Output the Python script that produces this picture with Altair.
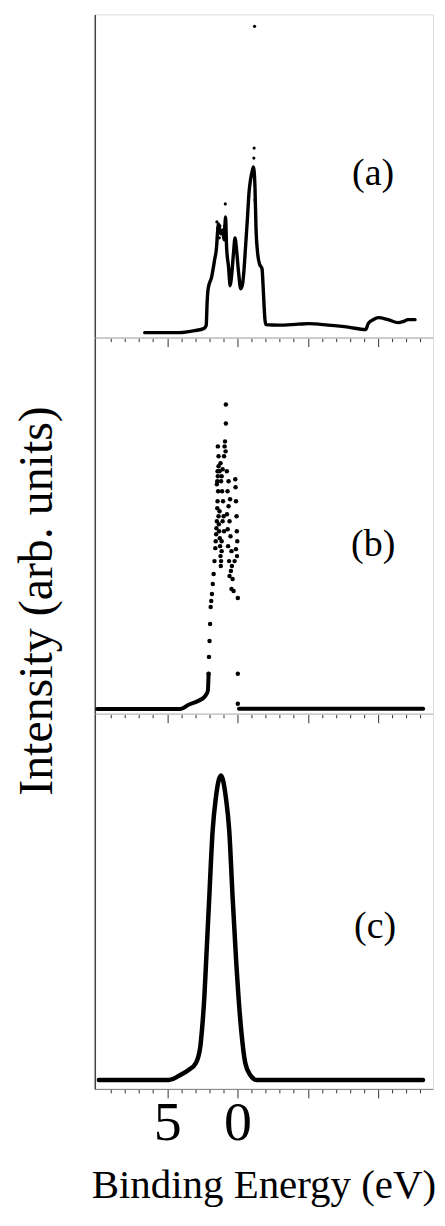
import altair as alt
import pandas as pd

# ---------------- data ----------------
# Binding energy (eV) and intensity (arb. units)

# panel (a): main trace
a_line_E = [6.60, 4.11, 3.05, 2.41, 2.23, 2.16, 2.09, 1.84, 1.63, 1.49, 1.42, 1.35, 1.21, 1.06,
            0.96, 0.85, 0.78, 0.64, 0.52, 0.43, 0.28, 0.18, 0.07, -0.07, -0.23, -0.35, -0.46,
            -0.57, -0.71, -0.82, -0.92, -1.03, -1.13, -1.24, -1.31, -1.42, -1.56, -1.74, -1.81,
            -1.88, -1.95, -2.02, -2.91, -4.33, -5.04, -6.45, -7.87, -9.11, -9.29, -9.65, -10.0,
            -10.71, -11.42, -11.77, -12.13, -12.62]
a_line_I = [5, 5, 7, 9, 12, 36, 49, 61, 78, 91, 106, 114, 104, 108,
            98, 121, 91, 71, 52, 61, 86, 100, 88, 66, 49, 53, 68,
            91, 121, 146, 158, 166, 171, 151, 111, 86, 74, 69, 54,
            34, 18, 13, 12.5, 13.5, 14, 12.5, 10.5, 8, 14, 18, 20,
            18, 15, 16, 18, 18]
# panel (a): isolated points
a_dot_E = [-1.18, -1.21, 0.87, 1.47, -1.24, -1.28, 1.40, 0.92, -1.16, -1.10, 1.30, 1.25]
a_dot_I = [190, 312, 134, 116, 138, 124, 110, 112, 180, 168, 100, 112]

# panel (b): continuous parts
b_line_E = [9.98, 4.06, 3.48, 2.77, 2.29, 2.11, 2.06]
b_line_I = [4.7, 4.7, 9, 13, 18, 23, 40]
b_tail_E = [-0.10, -13.20]
b_tail_I = [5, 5]
# panel (b): scattered points
b_dot_E = [2.06, 2.03, 1.99, 1.95, 1.91, 1.87, 1.82, 1.76, 1.70, 1.64, 1.58, 1.52, 1.47,
           1.47, 1.42, 1.35, 1.31, 1.24, 1.21, 1.38, 1.28, 1.35, 1.28, 1.21, 1.13, 1.06, 1.17,
           1.10, 1.03, 0.99, 0.96, 1.06, 1.13, 1.17, 1.13, 0.83, 0.83, 0.89, 0.85, 0.96, 0.92,
           1.40, 1.35, 1.42, 1.44, 0.76, 0.71, 0.64, 0.57, 0.50, 0.43, 0.40, 0.35, 0.28, 0.21,
           0.16, 0.14, 0.11, 0.07, 0.05, 0.02, 0.11, 0.04, -0.02, -0.02, -0.02, 0.64, 0.53,
           0.67, 0.57, 0.43, 0.60, 0.47, 0.75, 0.70, 1.55, 1.50, 1.44, 1.40, 1.33, 1.26, 1.19]
b_dot_I = [40, 57, 73, 90, 107, 113, 120, 130, 140, 153, 166, 180, 193,
           230, 213, 198, 183, 168, 158, 223, 203, 248, 243, 251, 238, 245, 233,
           223, 213, 198, 183, 193, 173, 153, 163, 310, 291, 273, 263, 258, 268,
           268, 258, 243, 233, 243, 223, 208, 193, 178, 163, 148, 135, 123, 153,
           235, 227, 213, 198, 183, 173, 165, 158, 116, 40, 10, 233, 215,
           168, 138, 125, 153, 143, 200, 185, 173, 186, 206, 238, 190, 176, 148]

# panel (c): smooth curve
c_line_E = [9.86, 4.89, 4.06, 3.48, 2.96, 2.65, 2.53, 2.36, 2.24, 2.01, 1.77, 1.54, 1.18,
            0.83, 0.59, 0.35, 0.09, -0.07, -0.26, -0.55, -0.90, -1.37, -13.19]
c_line_I = [9, 9, 14, 19, 26, 42, 59, 92, 126, 192, 259, 292, 314,
            292, 259, 192, 126, 92, 59, 26, 14, 9, 9]

tick_values = list(range(9, -14, -1))
panel_labels = ["(a)", "(b)", "(c)"]
x_title = "Binding Energy (eV)"
y_title = "Intensity (arb. units)"

# ---------------- chart ----------------
SERIF = "'Liberation Serif', 'Times New Roman', Times, serif"
W = 339
x_scale = alt.Scale(domain=[10.15, -13.9], nice=False, zero=False)
tick_size = {"condition": {"test": "datum.value % 5 === 0", "value": 9}, "value": 4}


def x_axis(show_labels):
    kw = dict(values=tick_values, tickSize=tick_size, domainColor="#808080",
              tickColor="#333333", grid=False, labelOverlap=False, labelFlush=False, title=None)
    if show_labels:
        kw.update(labelExpr="datum.value == 5 || datum.value == 0 ? datum.label : ''",
                  labelFont=SERIF, labelFontSize=56, labelColor="black", labelPadding=-2)
    else:
        kw.update(labels=False)
    return alt.Axis(**kw)


y_axis = alt.Axis(ticks=False, labels=False, grid=False, domainColor="#444444",
                  domainWidth=1.5, title=None)


def text_layer(txt, x, y, size, angle=0, baseline="middle"):
    return alt.Chart(pd.DataFrame({"t": [txt]})).mark_text(
        font=SERIF, fontSize=size, color="black", align="center", baseline=baseline, angle=angle
    ).encode(text="t:N", x=alt.value(x), y=alt.value(y))


def panel(lines, dots, ymax, height, label, lab_x, lab_y, stroke, dot_size, show_x, extra=()):
    ydom = alt.Scale(domain=[0, ymax], nice=False, zero=True)
    xenc = alt.X("E:Q", scale=x_scale, axis=x_axis(show_x))
    yenc = alt.Y("I:Q", scale=ydom, axis=y_axis)
    layers = []
    for E, I in lines:
        df = pd.DataFrame({"E": E, "I": I})
        layers.append(
            alt.Chart(df).mark_line(color="black", strokeWidth=stroke, interpolate="monotone",
                                    strokeCap="round", strokeJoin="round").encode(x=xenc, y=yenc)
        )
    if dots is not None:
        ddf = pd.DataFrame({"E": dots[0], "I": dots[1]})
        layers.append(
            alt.Chart(ddf).mark_circle(color="black", opacity=1, size=dot_size).encode(x=xenc, y=yenc)
        )
    layers.append(text_layer(label, lab_x, lab_y, 38))
    layers.extend(extra)
    return alt.layer(*layers).properties(width=W, height=height)


pa = panel([(a_line_E, a_line_I)], (a_dot_E, a_dot_I), 324, 324, panel_labels[0],
           279, 160, 3.4, 10, False)
pb = panel([(b_line_E, b_line_I), (b_tail_E, b_tail_I)], (b_dot_E, b_dot_I), 377, 377,
           panel_labels[1], 279, 208, 4, 20, False,
           extra=[text_layer(y_title, -57, 264, 48, angle=270)])
pc = panel([(c_line_E, c_line_I)], None, 376, 376, panel_labels[2],
           281, 214, 4.5, 10, True,
           extra=[text_layer(x_title, W / 2, 485, 41, baseline="alphabetic")])

chart = alt.vconcat(pa, pb, pc, spacing=0, bounds="flush").resolve_scale(
    y="independent"
).properties(
    padding={"left": 5, "top": 4, "right": 0, "bottom": 0}
).configure_view(stroke=None).configure(background="white")

chart.save("out.html", embed_options={"renderer": "svg", "actions": False})
